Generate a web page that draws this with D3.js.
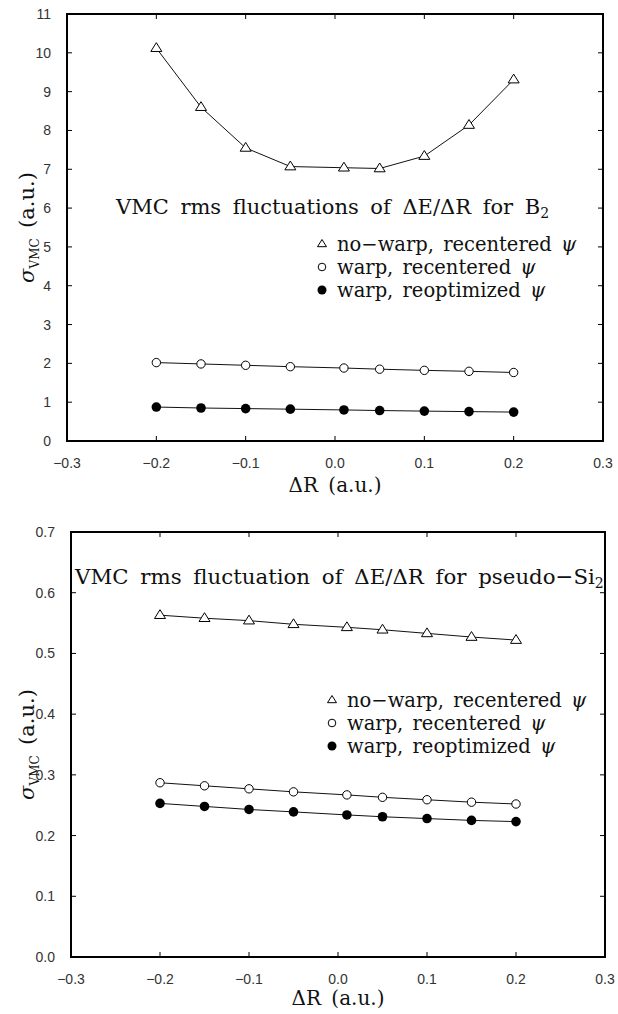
<!DOCTYPE html>
<html>
<head>
<meta charset="utf-8">
<script src="https://cdn.jsdelivr.net/npm/d3@7"></script>
<style>
  body { margin: 0; background: #fff; }
  svg { display: block; }
  .tick-label { font-family: "Liberation Sans", Arial, sans-serif; font-size: 14px; fill: #333; }
  .serif { font-family: "DejaVu Serif", "Liberation Serif", serif; fill: #111; }
  .series { fill: none; stroke: #111; stroke-width: 1; }
  .frame { fill: none; stroke: #000; stroke-width: 2; }
</style>
</head>
<body>
<svg id="chart"></svg>
<script>
/* DATA */
var dR = [-0.2, -0.15, -0.1, -0.05, 0.01, 0.05, 0.1, 0.15, 0.2];

var b2NoWarp = [10.12, 8.60, 7.55, 7.07, 7.04, 7.02, 7.34, 8.14, 9.31];
var b2Warp   = [2.02, 1.985, 1.95, 1.915, 1.88, 1.85, 1.82, 1.795, 1.765];
var b2Reopt  = [0.875, 0.85, 0.835, 0.82, 0.80, 0.785, 0.77, 0.757, 0.745];

var si2NoWarp = [0.563, 0.558, 0.554, 0.548, 0.543, 0.539, 0.533, 0.527, 0.522];
var si2Warp   = [0.287, 0.282, 0.277, 0.272, 0.267, 0.263, 0.259, 0.255, 0.252];
var si2Reopt  = [0.253, 0.248, 0.243, 0.239, 0.234, 0.231, 0.228, 0.225, 0.223];

var xTicks = [-0.3, -0.2, -0.1, 0.0, 0.1, 0.2, 0.3];
var b2YTicks = [0, 1, 2, 3, 4, 5, 6, 7, 8, 9, 10, 11];
var si2YTicks = [0.0, 0.1, 0.2, 0.3, 0.4, 0.5, 0.6, 0.7];

var legendNames = ["no\u2212warp, recentered ", "warp, recentered ", "warp, reoptimized "];

/* SETUP */
var width = 618;
var height = 1014;
var tickLen = 5;

var svg = d3.select("#chart")
    .attr("width", width)
    .attr("height", height);

var minusFormat = function(fmt) {
  var f = d3.format(fmt);
  return function(d) { return f(d).replace("-", "\u2212"); };
};

/* DRAW ONE PANEL */
function drawPanel(cfg) {
  var x = d3.scaleLinear().domain([-0.3, 0.3]).range([cfg.left, cfg.right]);
  var y = d3.scaleLinear().domain(cfg.yDomain).range([cfg.bottom, cfg.top]);

  var g = svg.append("g");

  // ticks pointing inward on all four sides
  var ticks = g.append("g").attr("stroke", "#000").attr("stroke-width", 1);
  xTicks.slice(1, -1).forEach(function(t) {
    ticks.append("line").attr("x1", x(t)).attr("x2", x(t))
      .attr("y1", cfg.bottom).attr("y2", cfg.bottom - tickLen);
    ticks.append("line").attr("x1", x(t)).attr("x2", x(t))
      .attr("y1", cfg.top).attr("y2", cfg.top + tickLen);
  });
  cfg.yTicks.slice(1, -1).forEach(function(t) {
    ticks.append("line").attr("x1", cfg.left).attr("x2", cfg.left + tickLen)
      .attr("y1", y(t)).attr("y2", y(t));
    ticks.append("line").attr("x1", cfg.right).attr("x2", cfg.right - tickLen)
      .attr("y1", y(t)).attr("y2", y(t));
  });

  g.append("rect").attr("class", "frame")
    .attr("x", cfg.left).attr("y", cfg.top)
    .attr("width", cfg.right - cfg.left).attr("height", cfg.bottom - cfg.top);

  // tick labels
  var xf = minusFormat(".1f");
  g.selectAll(".xlab").data(xTicks).enter().append("text")
    .attr("class", "tick-label")
    .attr("x", d => x(d))
    .attr("y", cfg.bottom + 27)
    .attr("text-anchor", "middle")
    .text(xf);

  g.selectAll(".ylab").data(cfg.yTicks).enter().append("text")
    .attr("class", "tick-label")
    .attr("x", cfg.left - 16)
    .attr("y", d => y(d) + 5)
    .attr("text-anchor", "end")
    .text(cfg.yFormat);

  // axis titles
  g.append("text").attr("class", "serif")
    .attr("x", (cfg.left + cfg.right) / 2)
    .attr("y", cfg.xLabelY)
    .attr("text-anchor", "middle")
    .style("font-size", "20px")
    .style("word-spacing", "4px")
    .text("\u0394R (a.u.)");

  var ylab = g.append("text").attr("class", "serif")
    .attr("transform", translate(34, (cfg.top + cfg.bottom) / 2) + " rotate(-90)")
    .attr("text-anchor", "middle")
    .style("font-size", "21px");
  ylab.append("tspan").style("font-style", "italic").text("\u03c3");
  ylab.append("tspan").attr("dy", 5).style("font-size", "12px").text("VMC");
  ylab.append("tspan").attr("dy", -5).text("\u2002(a.u.)");

  // series
  var line = d3.line().x((d, i) => x(dR[i])).y(d => y(d));
  cfg.series.forEach(function(s) {
    g.append("path").attr("class", "series").attr("d", line(s));
  });

  drawMarkers(g, cfg.series[0], x, y, "tri");
  drawMarkers(g, cfg.series[1], x, y, "open");
  drawMarkers(g, cfg.series[2], x, y, "filled");

  // title
  var title = g.append("text").attr("class", "serif")
    .attr("x", cfg.titleX)
    .attr("y", cfg.titleY)
    .style("font-size", cfg.titleSize)
    .style("word-spacing", "5px");
  title.append("tspan").text(cfg.title);
  title.append("tspan").attr("dy", 4).style("font-size", "14px").text("2");

  // legend
  var kinds = ["tri", "open", "filled"];
  legendNames.forEach(function(name, i) {
    var ly = cfg.legendY + i * cfg.legendStep;
    drawMarker(g, cfg.legendX, ly - 7, kinds[i], true);
    var t = g.append("text").attr("class", "serif")
      .attr("x", cfg.legendX + 15)
      .attr("y", ly)
      .style("font-size", "19.5px")
      .style("word-spacing", "3px")
      .text(name);
    t.append("tspan").style("font-style", "italic").text("\u03c8");
  });
}

function drawMarkers(g, values, x, y, kind) {
  values.forEach(function(v, i) {
    drawMarker(g, x(dR[i]), y(v), kind, false);
  });
}

function drawMarker(g, cx, cy, kind, small) {
  if (kind === "tri") {
    var s = small ? 4.5 : 5.5;
    g.append("path")
      .attr("d", "M" + cx + "," + (cy - s) + "L" + (cx + s) + "," + (cy + s * 0.6) +
                 "L" + (cx - s) + "," + (cy + s * 0.6) + "Z")
      .attr("fill", "#fff").attr("stroke", "#000").attr("stroke-width", 1);
  } else if (kind === "open") {
    g.append("circle").attr("cx", cx).attr("cy", cy).attr("r", small ? 3.8 : 4.2)
      .attr("fill", "#fff").attr("stroke", "#000").attr("stroke-width", 1);
  } else {
    g.append("circle").attr("cx", cx).attr("cy", cy).attr("r", small ? 4.5 : 4.8)
      .attr("fill", "#000");
  }
}

/* HELPER FUNCTION */
function translate(x, y) {
  return 'translate(' + String(x) + ',' + String(y) + ')';
}

drawPanel({
  left: 67, right: 603, top: 14, bottom: 441,
  yDomain: [0, 11], yTicks: b2YTicks, yFormat: d3.format("d"),
  series: [b2NoWarp, b2Warp, b2Reopt],
  title: "VMC rms fluctuations of \u0394E/\u0394R for B",
  titleX: 116, titleY: 214, titleSize: "21px",
  legendX: 322, legendY: 251, legendStep: 23,
  xLabelY: 492
});

drawPanel({
  left: 71, right: 605, top: 532, bottom: 957,
  yDomain: [0, 0.7], yTicks: si2YTicks, yFormat: d3.format(".1f"),
  series: [si2NoWarp, si2Warp, si2Reopt],
  title: "VMC rms fluctuation of \u0394E/\u0394R for pseudo\u2212Si",
  titleX: 75, titleY: 584, titleSize: "21.3px",
  legendX: 332, legendY: 707, legendStep: 23,
  xLabelY: 1005
});
</script>
</body>
</html>
